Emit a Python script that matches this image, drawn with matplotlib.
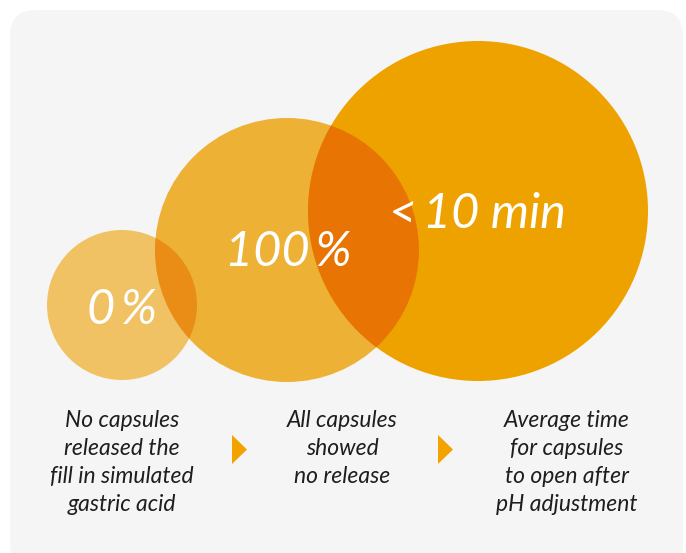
"""
capsule release infographic: three overlapping circles with captions
"""

import matplotlib
matplotlib.use("Agg")
import matplotlib.pyplot as plt
from matplotlib.patches import Circle, FancyBboxPatch, Polygon

# data
values = ["0\u2009%", "100\u2009%", "<\u200910 min"]
captions = [
    "No capsules\nreleased the\nfill in simulated\ngastric acid",
    "All capsules\nshowed\nno release",
    "Average time\nfor capsules\nto open after\npH adjustment",
]

# layout (pixel coords, y down)
W, H = 686, 553
circle_xy = [(122, 305), (287, 250), (478, 211)]
circle_r = [75, 132, 170]
circle_colors = ["#F0C263", "#EDB135", "#EEA200"]
overlap_colors = ["#E98D16", "#E87503"]
value_xy = [(122, 310), (288, 252), (477, 214)]
caption_x = [122, 342, 567]
caption_top = 410
arrow_x = [232, 438]

fig = plt.figure(figsize=(W / 100, H / 100), dpi=100)
ax = fig.add_axes([0, 0, 1, 1])
ax.set_xlim(0, W)
ax.set_ylim(H, 0)
ax.set_aspect("equal")
ax.axis("off")

# background panel
panel = FancyBboxPatch((10, 10), 673, 560, boxstyle="round,pad=0,rounding_size=26",
                       facecolor="#F5F5F5", edgecolor="none")
ax.add_patch(panel)

# circles
circles = []
for (cx, cy), r, c in zip(circle_xy, circle_r, circle_colors):
    p = Circle((cx, cy), r, facecolor=c, edgecolor="none")
    ax.add_patch(p)
    circles.append(p)

# overlapping parts
for i, c in enumerate(overlap_colors):
    (cx, cy), r = circle_xy[i], circle_r[i]
    p = Circle((cx, cy), r, facecolor=c, edgecolor="none")
    ax.add_patch(p)
    p.set_clip_path(circles[i + 1])

# values inside circles
for (x, y), txt in zip(value_xy, values):
    ax.text(x, y, txt, ha="center", va="center", fontsize=35, color="white",
            family=["Lato", "DejaVu Sans"], style="italic")

# captions
for x, txt in zip(caption_x, captions):
    ax.text(x, caption_top, txt, ha="center", va="top", fontsize=16.5, color="#1E1E1E",
            family="Lato", style="italic", linespacing=1.42)

# arrows between captions
for x in arrow_x:
    tri = Polygon([(x, 435), (x, 464), (x + 15, 449.5)], closed=True,
                  facecolor="#F2A300", edgecolor="none")
    ax.add_patch(tri)

fig.savefig("out.png", dpi=100)
